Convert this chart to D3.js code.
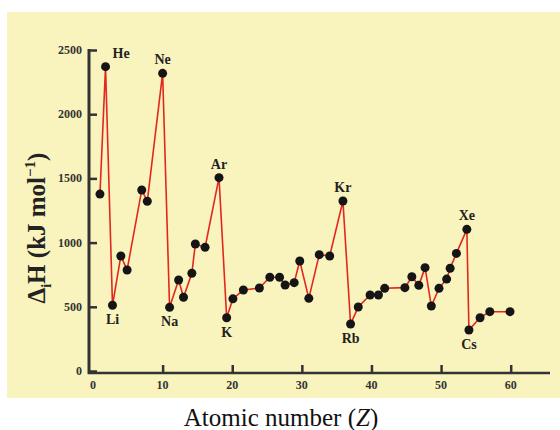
<!DOCTYPE html>
<html>
<head>
<meta charset="utf-8">
<script src="https://cdn.jsdelivr.net/npm/d3@7"></script>
<style>
  body { margin: 0; background: #fff; }
  svg { display: block; }
</style>
</head>
<body>
<div id="chart"></div>
<script>
// first ionization enthalpy vs atomic number
const atomicNumbers = [1, 1.8, 2.8, 4, 4.9, 7, 7.8, 10, 11, 12.3, 13, 14.2, 14.7, 16.1, 18.1,
  19.2, 20.1, 21.6, 23.9, 25.4, 26.8, 27.6, 28.9, 29.7, 31, 32.5, 34, 35.9,
  37, 38.1, 39.8, 41, 41.9, 44.8, 45.8, 46.8, 47.7, 48.6, 49.7, 50.8, 51.3, 52.2, 53.7,
  54, 55.6, 57, 59.9];
const enthalpies = [1378, 2370, 512, 896, 787, 1410, 1322, 2318, 496, 709, 574, 761, 989, 963, 1506,
  415, 562, 631, 646, 730, 730, 670, 688, 857, 566, 906, 896, 1324,
  366, 498, 592, 592, 644, 649, 734, 667, 805, 506, 644, 716, 800, 916, 1103,
  319, 415, 462, 462];

// element labels: symbol, index into arrays, above/below
const labelNames = ["He", "Ne", "Ar", "Kr", "Xe", "Li", "Na", "K", "Rb", "Cs"];
const labelIndex = [1, 7, 14, 27, 42, 2, 8, 15, 28, 43];
const labelAbove = [true, true, true, true, true, false, false, false, false, false];

const xTicks = [0, 10, 20, 30, 40, 50, 60];
const yTicks = [0, 500, 1000, 1500, 2000, 2500];

const points = atomicNumbers.map((z, i) => ({ z: z, v: enthalpies[i] }));

const w = 560, h = 430;
const svg = d3.select("#chart").append("svg")
  .attr("width", w)
  .attr("height", h);

// yellow panel
svg.append("rect")
  .attr("x", 7).attr("y", 12)
  .attr("width", w - 7).attr("height", 386)
  .attr("fill", "#f9f4bd");

const x = d3.scaleLinear().domain([0, 60]).range([93, 510.7]);
const y = d3.scaleLinear().domain([0, 2500]).range([371, 50]);

const axisColor = "#333";
const serif = "'Liberation Serif', 'DejaVu Serif', serif";

// Y axis (ticks point inward)
const yAxis = svg.append("g")
  .attr("transform", "translate(89,0)")
  .call(d3.axisRight(y).tickValues(yTicks).tickSize(8).tickFormat(""));
yAxis.select(".domain").remove();
yAxis.selectAll("line").attr("stroke", axisColor).attr("stroke-width", 2.5);
svg.append("line")
  .attr("x1", 89).attr("x2", 89)
  .attr("y1", y(2500) - 1).attr("y2", 374)
  .attr("stroke", axisColor).attr("stroke-width", 3);

svg.append("g").selectAll("text")
  .data(yTicks)
  .join("text")
  .attr("x", 82)
  .attr("y", d => y(d) + 4)
  .attr("text-anchor", "end")
  .attr("font-family", serif)
  .attr("font-weight", "bold")
  .attr("font-size", 12)
  .attr("fill", axisColor)
  .text(d => d);

// X axis (ticks point upward)
const xAxis = svg.append("g")
  .attr("transform", "translate(0,373)")
  .call(d3.axisTop(x).tickValues(xTicks.slice(1)).tickSize(8).tickFormat(""));
xAxis.select(".domain").remove();
xAxis.selectAll("line").attr("stroke", axisColor).attr("stroke-width", 2.5);
svg.append("line")
  .attr("x1", 88).attr("x2", 550)
  .attr("y1", 373).attr("y2", 373)
  .attr("stroke", axisColor).attr("stroke-width", 2.5);

svg.append("g").selectAll("text")
  .data(xTicks)
  .join("text")
  .attr("x", d => x(d))
  .attr("y", 389)
  .attr("text-anchor", "middle")
  .attr("font-family", serif)
  .attr("font-weight", "bold")
  .attr("font-size", 12)
  .attr("fill", axisColor)
  .text(d => d);

// line
const line = d3.line().x(d => x(d.z)).y(d => y(d.v));
svg.append("path")
  .datum(points)
  .attr("d", line)
  .attr("fill", "none")
  .attr("stroke", "#e3261f")
  .attr("stroke-width", 1.6);

// dots
svg.append("g").selectAll("circle")
  .data(points)
  .join("circle")
  .attr("cx", d => x(d.z))
  .attr("cy", d => y(d.v))
  .attr("r", 4.5)
  .attr("fill", "#151515");

// element labels
svg.append("g").selectAll("text")
  .data(labelNames)
  .join("text")
  .attr("x", (d, i) => x(points[labelIndex[i]].z) + (i === 0 ? 7 : 0))
  .attr("y", (d, i) => labelAbove[i] ? y(points[labelIndex[i]].v) - 9 : y(points[labelIndex[i]].v) + 19)
  .attr("text-anchor", (d, i) => i === 0 ? "start" : "middle")
  .attr("font-family", serif)
  .attr("font-weight", "bold")
  .attr("font-size", 14)
  .attr("fill", "#222")
  .text(d => d);

// axis titles
const yTitle = svg.append("text")
  .attr("transform", "translate(45,228) rotate(-90)")
  .attr("text-anchor", "middle")
  .attr("font-family", serif)
  .attr("font-weight", "bold")
  .attr("font-size", 25)
  .attr("fill", "#222");
yTitle.append("tspan").text("Δ");
yTitle.append("tspan").attr("font-size", 14).attr("dy", 6).text("i");
yTitle.append("tspan").attr("dy", -6).text("H (kJ mol");
yTitle.append("tspan").attr("font-size", 15).attr("dy", -10).text("−1");
yTitle.append("tspan").attr("dy", 10).text(")");

const xTitle = svg.append("text")
  .attr("x", 281)
  .attr("y", 426)
  .attr("text-anchor", "middle")
  .attr("font-family", serif)
  .attr("font-size", 25)
  .attr("fill", "#111");
xTitle.append("tspan").text("Atomic number (");
xTitle.append("tspan").attr("font-style", "italic").text("Z");
xTitle.append("tspan").text(")");
</script>
</body>
</html>
